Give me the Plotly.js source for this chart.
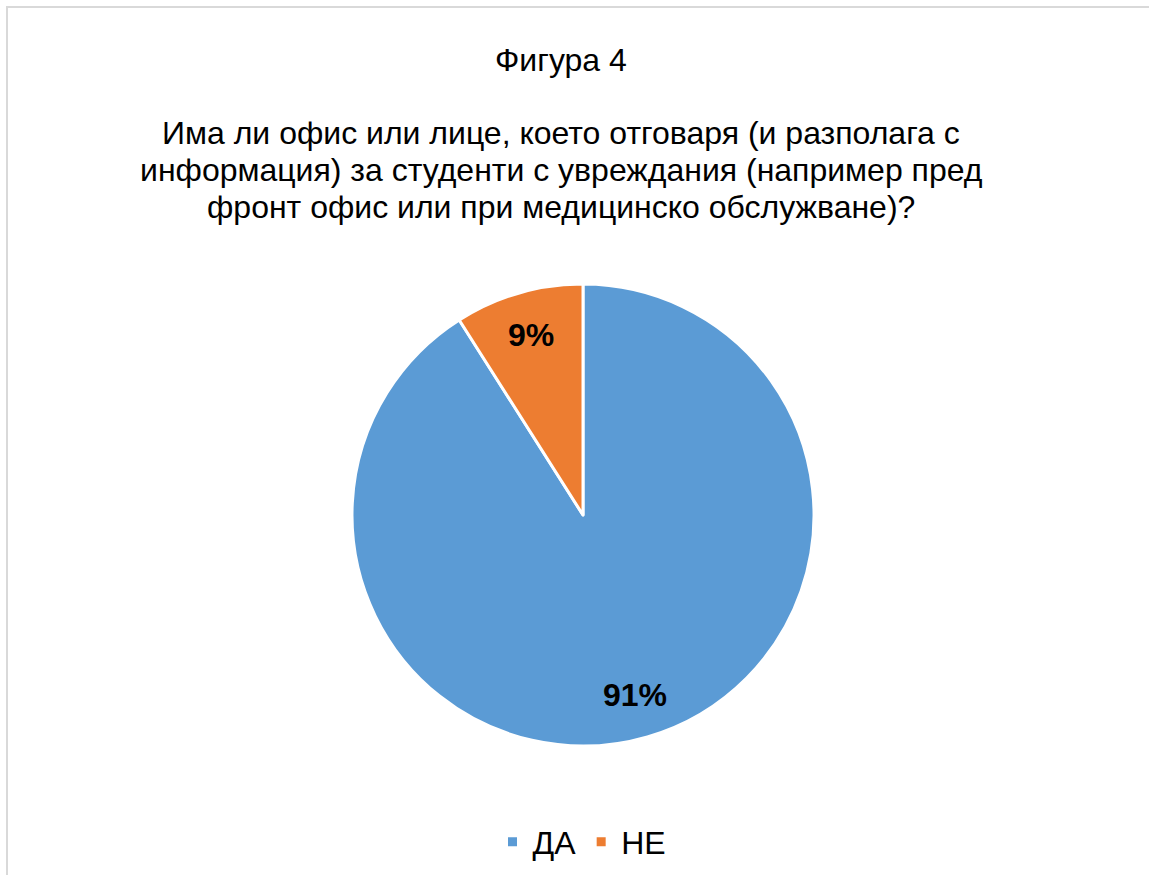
<!DOCTYPE html>
<html>
<head>
<meta charset="utf-8">
<script src="https://cdn.plot.ly/plotly-3.0.1.min.js"></script>
<style>
  html, body { margin: 0; padding: 0; background: #fff; }
  #frame { position: absolute; left: 6px; top: 6px; width: 1143px; height: 869px;
           border-left: 2px solid #d9d9d9; border-top: 2px solid #d9d9d9; box-sizing: border-box; pointer-events: none; }
  #chart { position: absolute; left: 0; top: 0; width: 1149px; height: 875px; }
</style>
</head>
<body>
<div id="chart"></div>
<div id="frame"></div>
<script>
const categories = ["ДА", "НЕ"];
const values = [91, 9];
const colors = ["#5B9BD5", "#ED7D31"];
const titleLines = [
  "Фигура 4",
  "Има ли офис или лице, което отговаря (и разполага с",
  "информация) за студенти с увреждания (например пред",
  "фронт офис или при медицинско обслужване)?"
];

const W = 1149, H = 875;
const cx = 583, cy = 515, r = 231;
const FONT = "Liberation Sans, Arial, sans-serif";

const trace = {
  type: "pie",
  labels: categories,
  values: values,
  sort: false,
  direction: "clockwise",
  rotation: 0,
  marker: { colors: colors, line: { color: "#ffffff", width: 3 } },
  textinfo: "none",
  hoverinfo: "label+percent",
  domain: { x: [(cx - r) / W, (cx + r) / W], y: [(H - cy - r) / H, (H - cy + r) / H] }
};

// Title lines as annotations (tighter line spacing like the original)
const titleY = [60, 133, 170, 207];
const annotations = titleLines.map((t, i) => ({
  text: t, xref: "paper", yref: "paper",
  x: 561 / W, xanchor: "center",
  y: 1 - titleY[i] / H, yanchor: "middle",
  showarrow: false,
  font: { family: FONT, size: 32, color: "#000000" }
}));

// Data labels placed at each slice's mid-angle
const total = values.reduce((a, b) => a + b, 0);
let acc = 0;
values.forEach((v, i) => {
  const mid = (acc + v / 2) / total * 2 * Math.PI; // clockwise from top
  acc += v;
  const rr = 0.81 * r;
  const px = cx + rr * Math.sin(mid);
  const py = cy - rr * Math.cos(mid);
  annotations.push({
    text: "<b>" + Math.round(v / total * 100) + "%</b>",
    xref: "paper", yref: "paper",
    x: px / W, y: 1 - py / H, xanchor: "center", yanchor: "middle",
    showarrow: false,
    font: { family: FONT, size: 32, color: "#000000" }
  });
});

const layout = {
  width: W, height: H,
  margin: { l: 0, r: 0, t: 0, b: 0 },
  paper_bgcolor: "#ffffff",
  font: { family: FONT, color: "#000000" },
  showlegend: true,
  legend: {
    orientation: "h",
    x: 582 / W, xanchor: "center",
    y: 1 - 842 / H, yanchor: "middle",
    font: { family: FONT, size: 32, color: "#000000" },
    traceorder: "normal"
  },
  annotations: annotations
};

Plotly.newPlot("chart", [trace], layout, { displayModeBar: false, staticPlot: true });
</script>
</body>
</html>
